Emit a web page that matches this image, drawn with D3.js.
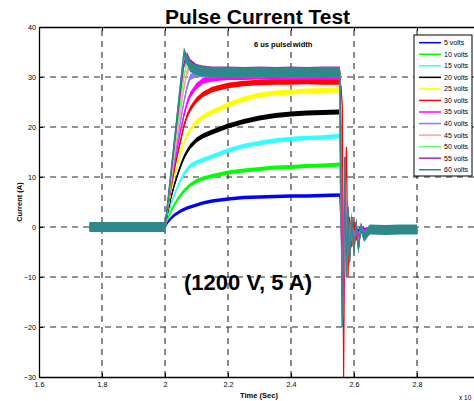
<!DOCTYPE html>
<html><head><meta charset="utf-8">
<script src="https://cdn.jsdelivr.net/npm/d3@7"></script>
<style>
html,body{margin:0;padding:0;background:#fff;}
svg{display:block;font-family:"Liberation Sans",Arial,Helvetica,sans-serif;}
</style></head>
<body><svg id="chart" width="474" height="401"></svg>
<script>
// ---- data (time in units of 1e-5 s, current in A) ----
const times = [1.76,1.80,1.85,1.90,1.95,2.00,
  2.01,2.02,2.03,2.04,2.05,2.06,2.07,2.08,2.10,2.12,2.15,2.20,2.25,2.30,2.35,2.40,2.45,2.50,2.555,
  2.559,2.563,2.567,2.571,2.576,2.581,2.586,2.593,2.600,2.607,2.614,2.622,2.632,2.65,2.70,2.75,2.80];

const seriesNames = ["5 volts","10 volts","15 volts","20 volts","25 volts","30 volts","35 volts","40 volts","45 volts","50 volts","55 volts","60 volts"];

const volts5  = [0,0,0,0,0,0, 1.1,1.8,2.4,2.8,3.2,3.5,3.8,4.0,4.4,4.8,5.2,5.6,5.9,6.0,6.1,6.2,6.2,6.3,6.4, 0,-4,-2,2,-2,1,-1.5,0.5,-1,0,-0.8,0,-0.5,-0.4,-0.4,-0.3,-0.4];
const volts10 = [0,0,0,0,0,0, 1.9,3.3,4.5,5.5,6.4,7.2,7.8,8.4,9.2,9.7,10.2,10.9,11.3,11.6,11.9,12.0,12.2,12.3,12.5, 2,-7,-4,4,-4,2,-3,1,-2,0,-1.5,0,-1,-0.5,-0.5,-0.4,-0.5];
const volts15 = [0,0,0,0,0,0, 2.6,4.7,6.5,8.0,9.4,10.6,11.5,12.2,12.9,13.4,14.1,15.3,16.2,16.8,17.3,17.6,17.8,17.9,18.2, 3,-10,-6,6,-5,2.5,-4,1,-2.5,0.5,-2,0,-1,-0.5,-0.5,-0.5,-0.5];
const volts20 = [0,0,0,0,0,0, 3.4,6.2,8.5,10.5,12.3,13.9,15.1,16.1,17.4,18.2,19.0,20.2,21.1,21.8,22.3,22.6,22.8,22.9,23.0, 4,-13,-8,8,-6,3,-4.5,1.5,-3,0.5,-2.5,0,-1.2,-0.5,-0.6,-0.5,-0.5];
const volts25 = [0,0,0,0,0,0, 4.0,7.4,10.2,12.6,14.8,16.8,18.2,19.4,21.0,22.0,23.0,24.4,25.6,26.4,26.8,27.0,27.2,27.3,27.4, 5,-16,-10,10,-8,3,-5,1.5,-3.5,0.5,-3,-0.2,-1.3,-0.6,-0.6,-0.5,-0.6];
const volts30 = [0,0,0,0,0,0, 4.4,8.2,11.6,14.6,17.4,20.2,22.2,23.6,25.4,26.5,27.5,28.3,28.7,28.9,29.0,29.0,29.1,29.0,29.0, 28,24,-30,5,16,-10,2,-4,1,-2,-3,-0.5,-1.5,-0.6,-0.6,-0.6,-0.6];
const volts35 = [0,0,0,0,0,0, 4.6,8.8,12.6,16.0,19.4,22.4,24.8,26.4,28.2,29.2,29.7,30.0,30.0,30.1,30.0,30.1,30.0,30.1,30.0, 20,-10,-15,14,-6,3,-5,1,-3,0.5,-2,0,-1,-0.4,-0.5,-0.5,-0.5];
const volts40 = [0,0,0,0,0,0, 4.8,9.2,13.5,17.5,21.5,25.0,28.0,30.0,30.6,30.5,30.5,30.6,30.5,30.5,30.6,30.5,30.5,30.6,30.5, 6,-18,-9,12,-9,3.5,-6,2,-4,1,-3.5,0,-1.5,-0.6,-0.6,-0.6,-0.6];
const volts45 = [0,0,0,0,0,0, 5.0,9.8,14.5,19.0,23.5,27.8,31.0,32.3,31.4,31.0,30.9,30.9,31.0,30.9,30.9,31.0,30.9,30.9,30.9, 6,-19,-9,13,-10,4,-6.5,2,-4.5,1,-4,0,-1.8,-0.6,-0.6,-0.6,-0.6];
const volts50 = [0,0,0,0,0,0, 5.2,10.4,15.6,20.6,25.5,30.0,33.0,32.6,31.6,31.3,31.2,31.1,31.2,31.1,31.2,31.1,31.2,31.1,31.2, 5,-20,-8,13,-10,4,-7,2,-5,1,-4,0,-2,-0.6,-0.6,-0.6,-0.6];
const volts55 = [0,0,0,0,0,0, 5.5,11.0,16.5,22.0,27.5,32.5,34.2,32.8,31.8,31.5,31.3,31.3,31.2,31.3,31.2,31.3,31.2,31.3,31.3, 5,-20,-8,14,-10,4,-7,2,-5,1,-4.5,0,-2,-0.5,-0.6,-0.6,-0.6];
const volts60 = [0,0,0,0,0,0, 5.8,11.7,17.5,23.3,29.2,35.0,33.4,32.0,31.4,31.1,31.0,31.0,30.9,31.0,30.9,31.0,30.9,31.0,31.0, 5,-20,-8,14,-10,4,-7,2,-5,1,-4.5,0,-2,-0.5,-0.6,-0.5,-0.5];
// visible half-height of the noise band of each trace (A)
const noiseHalf = [0.35,0.4,0.45,0.5,0.5,0.55,0.6,0.6,0.7,0.7,0.8,1.0];

const xTicks = [1.6,1.8,2.0,2.2,2.4,2.6,2.8,3.0];
const xTickLabels = ["1.6","1.8","2","2.2","2.4","2.6","2.8",""];
const yTicks = [-30,-20,-10,0,10,20,30,40];

// ---- styles ----
const colors = ["#0000ff","#00ff00","#33ffff","#000000","#ffff00","#ff0000","#ff00ff","#8080ff","#ff9f9f","#66ff66","#9b2fb0","#2e8a8a"];

const allValues = [volts5,volts10,volts15,volts20,volts25,volts30,volts35,volts40,volts45,volts50,volts55,volts60];
const series = seriesNames.map((n,i)=>({name:n,color:colors[i],noise:noiseHalf[i],
  pts: times.map((t,j)=>({t, v: allValues[i][j]}))}));

const svg = d3.select("#chart");
const L=39, R=480, T=27, B=377;
const x = d3.scaleLinear().domain([1.6,3.0]).range([L,R]);
const y = d3.scaleLinear().domain([-30,40]).range([B,T]);

svg.append("defs").append("clipPath").attr("id","clip")
  .append("rect").attr("x",L).attr("y",T).attr("width",R-L).attr("height",B-T);

// grid
const grid = svg.append("g").attr("stroke","#2a2a2a").attr("stroke-width",1.1).attr("stroke-dasharray","6,5");
xTicks.filter(t=>t>1.6 && t<3.0).forEach(t=>{
  grid.append("line").attr("x1",x(t)).attr("x2",x(t)).attr("y1",B).attr("y2",T);
});
yTicks.filter(v=>v>-30 && v<40).forEach(v=>{
  grid.append("line").attr("x1",L).attr("x2",R).attr("y1",y(v)).attr("y2",y(v));
});

// traces
const plot = svg.append("g").attr("clip-path","url(#clip)");
const area = d3.area().x(d=>x(d.t));
const line = d3.line().x(d=>x(d.t)).y(d=>y(d.v));
series.forEach(s=>{
  plot.append("path").datum(s.pts)
    .attr("d", area.y0(d=>y(d.v - s.noise)).y1(d=>y(d.v + s.noise)))
    .attr("fill", s.color).attr("stroke","none");
  plot.append("path").datum(s.pts).attr("d", line)
    .attr("fill","none").attr("stroke", s.color).attr("stroke-width",1.2);
});

// axes
const fmtX = d => xTickLabels[xTicks.indexOf(+d.toFixed(1))];
const gx = svg.append("g").attr("transform",`translate(0,${B})`)
  .call(d3.axisBottom(x).tickValues(xTicks).tickFormat(fmtX).tickSizeInner(-4).tickSizeOuter(0).tickPadding(5));
const gxt = svg.append("g").attr("transform",`translate(0,${T})`)
  .call(d3.axisTop(x).tickValues(xTicks).tickFormat("").tickSizeInner(-4).tickSizeOuter(0));
const gy = svg.append("g").attr("transform",`translate(${L},0)`)
  .call(d3.axisLeft(y).tickValues(yTicks).tickSizeInner(-4).tickSizeOuter(0).tickPadding(3));
[gx,gxt,gy].forEach(g=>{
  g.select(".domain").attr("stroke","#000").attr("stroke-width",1.3);
  g.selectAll(".tick line").attr("stroke","#000").attr("stroke-width",1);
  g.selectAll("text").attr("font-size","7.2px").attr("fill","#000")
    .attr("font-family","'Liberation Sans',Arial,sans-serif");
});

// titles & labels
svg.append("text").attr("x",257.5).attr("y",24).attr("text-anchor","middle")
  .attr("font-size","21px").attr("font-weight","bold").text("Pulse Current Test");
svg.append("text").attr("x",259).attr("y",397.5).attr("text-anchor","middle")
  .attr("font-size","7.5px").attr("font-weight","bold").text("Time (Sec)");
svg.append("text").attr("transform","translate(21.5,202) rotate(-90)").attr("text-anchor","middle")
  .attr("font-size","7.5px").attr("font-weight","bold").text("Current (A)");
svg.append("text").attr("x",459).attr("y",400).attr("font-size","6.5px").text("x 10");

svg.append("text").attr("x",254).attr("y",47).attr("font-size","7.5px").attr("font-weight","bold")
  .text("6 us pulse width");
svg.append("text").attr("x",184).attr("y",290).attr("font-size","22px").attr("font-weight","bold")
  .text("(1200 V, 5 A)");

// legend
const lg = svg.append("g");
lg.append("rect").attr("x",414).attr("y",35).attr("width",58).attr("height",141)
  .attr("fill","#fff").attr("stroke","#000").attr("stroke-width",1);
series.forEach((s,i)=>{
  const yy = 42.7 + i*11.55;
  lg.append("line").attr("x1",419).attr("x2",441).attr("y1",yy).attr("y2",yy)
    .attr("stroke",s.color).attr("stroke-width",1.5);
  lg.append("text").attr("x",444).attr("y",yy).attr("dy","0.35em")
    .attr("font-size","7px").text(s.name);
});
</script></body></html>
